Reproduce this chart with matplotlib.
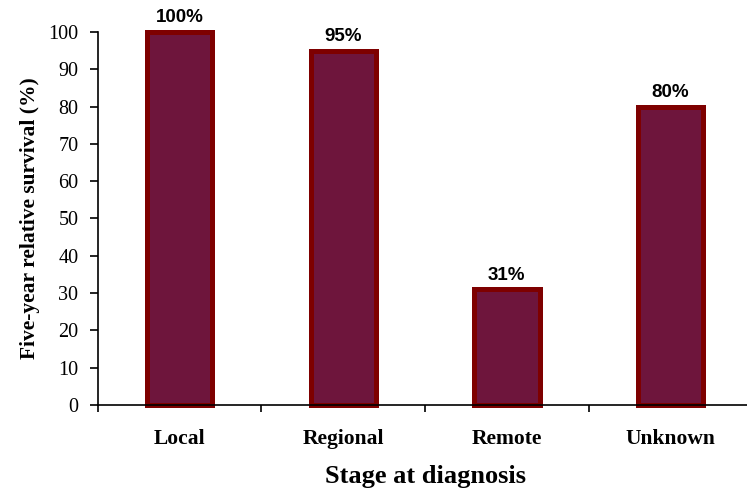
import matplotlib
matplotlib.use("Agg")
from matplotlib import pyplot as plt

# Data
stages = ["Local", "Regional", "Remote", "Unknown"]
survival = [100, 95, 31, 80]
labels = ["100%", "95%", "31%", "80%"]

fig = plt.figure(figsize=(7.47, 4.91), dpi=100)
ax = fig.add_axes([0.131, 0.175, 0.876, 0.760])

x = list(range(len(stages)))
ax.bar(x, survival, width=0.40, color="#6E153C", edgecolor="#7E0000",
       linewidth=3.6, zorder=2, clip_on=False)

for xi, v, lab in zip(x, survival, labels):
    ax.annotate(lab, (xi, v), xytext=(0, 4), textcoords="offset points",
                ha="center", va="bottom", fontsize=13.5, fontweight="bold",
                family="Liberation Sans")

ax.set_xlim(-0.5, len(stages) - 0.5)
ax.set_ylim(0, 100)
ax.set_yticks(range(0, 101, 10))
ax.set_yticklabels([str(t) for t in range(0, 101, 10)],
                   family="Liberation Serif", fontsize=14.5)

# boundary ticks on the x axis, labels at the centres
ax.set_xticks([i - 0.5 for i in range(len(stages) + 1)])
ax.set_xticklabels([])
ax.set_xticks(x, minor=True)
ax.set_xticklabels(stages, minor=True, family="Liberation Serif",
                   fontweight="bold", fontsize=15.5)
ax.tick_params(axis="x", which="minor", length=0, pad=17)
ax.tick_params(axis="x", which="major", length=5, width=1.2, direction="out")
ax.tick_params(axis="y", length=6, width=1.2, direction="out", pad=8)

for s in ["top", "right"]:
    ax.spines[s].set_visible(False)
ax.spines["left"].set_linewidth(1.2)
ax.spines["bottom"].set_linewidth(1.2)
ax.spines["bottom"].set_zorder(3)

ax.set_xlabel("Stage at diagnosis", family="Liberation Serif",
              fontweight="bold", fontsize=19, labelpad=12)
ax.set_ylabel("Five-year relative survival (%)", family="Liberation Serif",
              fontweight="bold", fontsize=15.5, labelpad=6)

plt.savefig("out.png", dpi=100)
